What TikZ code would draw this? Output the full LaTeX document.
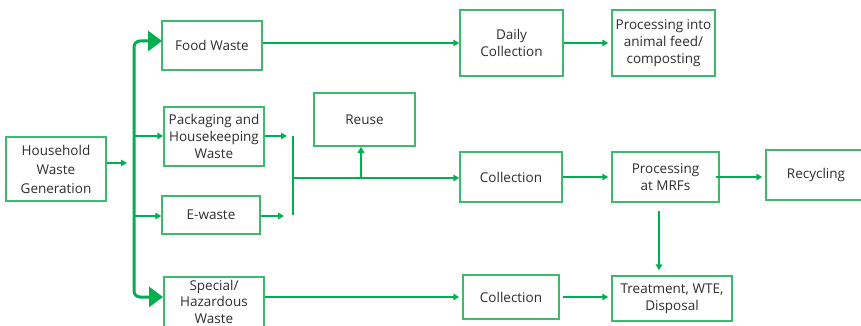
\documentclass[tikz,border=0pt]{standalone}
\usepackage{fontspec}
\setmainfont{Open Sans}
\usetikzlibrary{arrows.meta,calc}
\definecolor{lgreen}{HTML}{00B050}
\definecolor{bgreen}{HTML}{3CBB6C}
\definecolor{txt}{HTML}{2E2E2E}
\tikzset{
  box/.style={draw=bgreen, line width=1.5pt, fill=white, text=txt, align=center,
    inner sep=0pt, font=\fontsize{13.5}{17}\selectfont},
  conn/.style={draw=lgreen, line width=2pt, -{Triangle[length=6pt,width=6.5pt]}},
  plain/.style={draw=lgreen, line width=2pt},
  bus/.style={draw=lgreen, line width=3pt, rounded corners=6pt,
    {Triangle[length=14pt,width=20pt]}-{Triangle[length=14pt,width=20pt]}},
}
\begin{document}
\begin{tikzpicture}[x=1pt,y=-1pt]
\useasboundingbox (0,0) rectangle (861,326);
\node[box, minimum width=100pt, minimum height=64pt, font=\fontsize{13.5}{19}\selectfont] (hh) at (56,169) {Household\\Waste\\Generation};
\node[box, minimum width=100pt, minimum height=49pt] (food) at (212,45.5) {Food Waste};
\node[box, minimum width=100pt, minimum height=59pt] (pack) at (214,136.5) {Packaging and\\Housekeeping\\Waste};
\node[box, minimum width=100pt, minimum height=0pt, inner ysep=3pt, anchor=north, font=\fontsize{13.5}{16.8}\selectfont] (spec) at (214,276) {Special/\\Hazardous\\Waste\rule[-16pt]{0pt}{0pt}};
\node[box, minimum width=98pt, minimum height=38pt] (ew) at (211,215) {E-waste};
\node[box, minimum width=101pt, minimum height=53pt] (reuse) at (364.5,119.5) {Reuse};
\node[box, minimum width=103pt, minimum height=66pt] (daily) at (511.5,43) {Daily\\Collection};
\node[box, minimum width=103pt, minimum height=66pt] (proc) at (663.5,43) {Processing into\\animal feed/\\composting};
\node[box, minimum width=102pt, minimum height=50pt] (coll) at (511,177) {Collection};
\node[box, minimum width=107pt, minimum height=50pt] (mrf) at (665.5,177) {Processing\\at MRFs};
\node[box, minimum width=100pt, minimum height=50pt] (recy) at (816,175) {Recycling};
\node[box, minimum width=96pt, minimum height=44pt] (coll2) at (511,297) {Collection};
\node[box, minimum width=120pt, minimum height=45pt] (treat) at (672,298.5) {Treatment, WTE,\\Disposal};

% bus
\coordinate (hhend) at (127,163);
\coordinate (bfood) at (162,41);
\coordinate (bspec) at (163,297);
\coordinate (bmid) at (134,200);
\draw[conn] (hh.east |- hhend) -- (hhend);
\draw[bus] (bfood) -| (bmid) |- (bspec);
\coordinate (bp) at (134,136);
\coordinate (be) at (134,216);
\draw[conn] (bp) -- (bp -| pack.west);
\draw[conn] (be) -- (be -| ew.west);

% merge
\coordinate (pe) at (287,136);
\coordinate (ee) at (284,216);
\draw[conn] (pack.east |- pe) -- (pe);
\draw[conn] (ew.east |- ee) -- (ee);
\coordinate (vt) at (293,136);
\coordinate (vb) at (293,215);
\coordinate (vm) at (293,178);
\coordinate (jr) at (361,178);
\draw[plain] (vt) -- (vb);
\draw[conn] (vm) -- (coll.west |- vm);
\draw[conn] (jr) -- (jr |- reuse.south);

% right side
\draw[conn] (food.east |- daily.west) -- (daily.west);
\draw[conn, shorten >=3pt] (daily) -- (proc);
\draw[conn, shorten >=3pt] (coll) -- (mrf);
\draw[conn, shorten >=3pt, shorten <=-4pt] (mrf) -- (mrf -| recy.west);
\coordinate (md) at (659,211);
\draw[conn, shorten >=5pt] (md) -- (md |- treat.north);
\draw[conn, shorten >=3pt] (spec.east |- coll2.west) -- (coll2.west);
\draw[conn, shorten >=3pt, shorten <=3pt] (coll2.east) -- (coll2.east -| treat.west);
\end{tikzpicture}
\end{document}
